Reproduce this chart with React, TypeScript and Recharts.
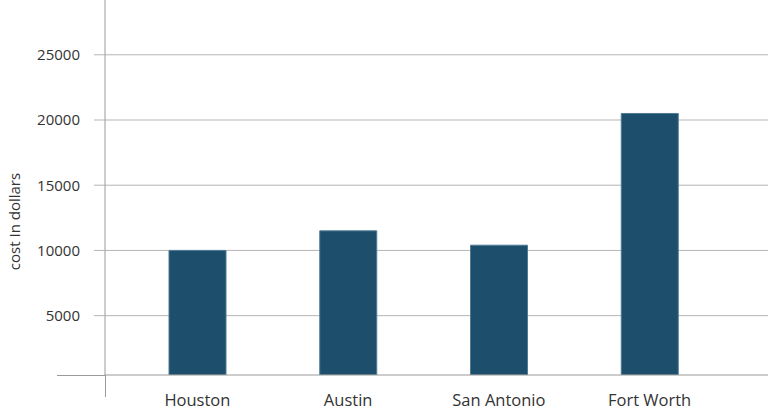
import React from 'react';
import { BarChart, Bar, XAxis, YAxis, CartesianGrid } from 'recharts';

const CITIES = ['Houston', 'Austin', 'San Antonio', 'Fort Worth'];
const COSTS = [10000, 11500, 10400, 20500];
const Y_TICKS = [5000, 10000, 15000, 20000, 25000];
const Y_DOMAIN = [450, 29200];

const data = CITIES.map((name, i) => ({ name, cost: COSTS[i] }));

const W = 768;
const H = 411;
// chart runs 2px past the frame so no edge line shows on the right
const CHART_W = W + 2;
const AXIS_LEFT = 105;
const AXIS_BOTTOM = 36;
const AXIS_COLOR = '#9a9a9a';
const GRID_COLOR = '#b5b5b5';
const TEXT_COLOR = '#333333';
const FONT = '"Open Sans", sans-serif';

// rotated y-axis title, placed a bit below the plot's middle like the original
const YTitle = ({ viewBox }: any) => {
  const x = 14;
  const y = viewBox.y + viewBox.height / 2 + 34;
  return (
    <text
      x={x}
      y={y}
      transform={`rotate(-90, ${x}, ${y})`}
      textAnchor="middle"
      dominantBaseline="central"
      fill={TEXT_COLOR}
      fontSize={15}
      fontFamily={FONT}
    >
      cost In dollars
    </text>
  );
};

export default function App() {
  const plotBottom = H - AXIS_BOTTOM;
  return (
    <div style={{ position: 'absolute', left: 0, top: 0, width: W, height: H, background: '#fff', overflow: 'hidden' }}>
      <BarChart
        width={CHART_W}
        height={H}
        data={data}
        accessibilityLayer={false}
        margin={{ top: 0, right: 0, bottom: 0, left: 0 }}
        style={{ fontFamily: FONT }}
      >
        <CartesianGrid
          vertical={false}
          horizontalValues={Y_TICKS}
          stroke={GRID_COLOR}
          strokeWidth={1}
        />
        <XAxis
          dataKey="name"
          height={AXIS_BOTTOM}
          padding={{ left: 17, right: 45 }}
          axisLine={{ stroke: AXIS_COLOR }}
          tickLine={false}
          tickSize={0}
          tickMargin={19}
          tick={{ fill: TEXT_COLOR, fontSize: 16.5, fontFamily: FONT }}
        />
        <YAxis
          width={AXIS_LEFT}
          domain={Y_DOMAIN}
          ticks={Y_TICKS}
          allowDataOverflow
          axisLine={{ stroke: AXIS_COLOR }}
          tickLine={{ stroke: GRID_COLOR }}
          tickSize={11}
          tickMargin={14}
          tick={{ fill: TEXT_COLOR, fontSize: 15, fontFamily: FONT }}
          label={<YTitle />}
        />
        <Bar
          dataKey="cost"
          fill="#1d4e6b"
          stroke="#4f7b95"
          strokeWidth={1}
          barSize={57}
          isAnimationActive={false}
        />
      </BarChart>
      {/* the axes cross each other and run past the corner */}
      <svg
        width={W}
        height={H}
        style={{ position: 'absolute', left: 0, top: 0, pointerEvents: 'none' }}
      >
        <line x1={57} y1={plotBottom + 0.5} x2={AXIS_LEFT} y2={plotBottom + 0.5} stroke={AXIS_COLOR} />
        <line x1={AXIS_LEFT + 0.5} y1={plotBottom} x2={AXIS_LEFT + 0.5} y2={397} stroke={AXIS_COLOR} />
      </svg>
    </div>
  );
}
